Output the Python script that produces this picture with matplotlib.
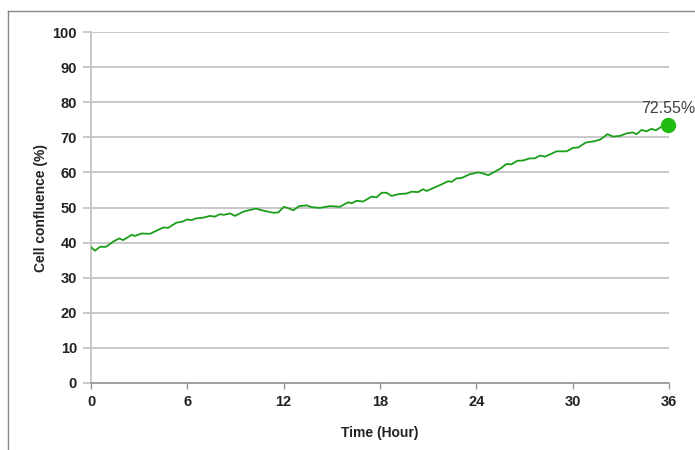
import matplotlib
matplotlib.use("Agg")
import matplotlib.pyplot as plt
from matplotlib.lines import Line2D

# values
hours = [0.0, 0.25, 0.56, 0.93, 1.39, 1.76, 2.0, 2.53, 2.74, 3.15, 3.67, 4.5, 4.8,
         5.33, 5.65, 6.0, 6.27, 6.54, 6.99, 7.41, 7.72, 8.03, 8.28, 8.66, 8.97,
         9.48, 9.9, 10.27, 10.73, 11.35, 11.66, 12.02, 12.29, 12.6, 12.97, 13.43,
         13.74, 14.26, 14.88, 15.5, 16.02, 16.23, 16.54, 16.95, 17.47, 17.79,
         18.1, 18.41, 18.72, 19.14, 19.66, 19.97, 20.38, 20.69, 20.9, 21.3,
         21.84, 22.25, 22.46, 22.77, 23.08, 23.6, 24.12, 24.43, 24.74, 25.15,
         25.47, 25.88, 26.19, 26.54, 26.92, 27.33, 27.64, 27.96, 28.27, 28.62,
         28.99, 29.62, 30.03, 30.34, 30.82, 31.38, 31.74, 32.17, 32.52, 32.94,
         33.35, 33.73, 33.98, 34.29, 34.6, 34.91, 35.18, 35.53, 35.95]
confluence = [38.7, 37.7, 38.8, 38.8, 40.3, 41.2, 40.7, 42.2, 41.9, 42.6, 42.5,
              44.3, 44.2, 45.7, 45.9, 46.6, 46.4, 46.9, 47.1, 47.6, 47.4, 48.1,
              47.9, 48.3, 47.6, 48.8, 49.3, 49.7, 49.1, 48.5, 48.6, 50.2, 49.8,
              49.2, 50.4, 50.6, 50.1, 49.9, 50.4, 50.2, 51.5, 51.2, 51.9, 51.7,
              53.1, 52.9, 54.2, 54.2, 53.3, 53.8, 54.0, 54.5, 54.4, 55.2, 54.7,
              55.5, 56.6, 57.5, 57.3, 58.3, 58.4, 59.5, 60.0, 59.7, 59.2, 60.2,
              61.0, 62.4, 62.3, 63.3, 63.4, 64.0, 64.0, 64.8, 64.5, 65.2, 66.0,
              66.0, 67.0, 67.1, 68.5, 68.9, 69.4, 70.9, 70.2, 70.4, 71.1, 71.4,
              70.9, 72.1, 71.7, 72.4, 72.0, 73.0, 73.4]
final_label = "72.55%"
x_ticks = [0, 6, 12, 18, 24, 30, 36]
y_ticks = [0, 10, 20, 30, 40, 50, 60, 70, 80, 90, 100]

plt.rcParams['font.family'] = ['Liberation Sans', 'DejaVu Sans']

fig = plt.figure(figsize=(6.95, 4.5), dpi=100)
ax = fig.add_axes([91 / 695, 1 - 383 / 450, 578 / 695, 351 / 450])

ax.plot(hours, confluence, color='#1a9e1a', lw=1.3, zorder=3)
ax.plot(hours[-1], confluence[-1], 'o', color='#22bb11', ms=10, zorder=4, clip_on=False)
ax.annotate(final_label, (hours[-1], confluence[-1]), xytext=(0, 7),
            textcoords='offset points', ha='center', va='bottom',
            fontsize=11.5, color='#404040')

ax.set_xlim(0, 36)
ax.set_ylim(0, 100)
ax.set_xticks(x_ticks)
ax.set_yticks(y_ticks)
ax.yaxis.grid(True, color='#c4c4c4', lw=1.3)
ax.set_axisbelow(True)
for s in ['top', 'right']:
    ax.spines[s].set_visible(False)
ax.spines['left'].set_color('#c4c4c4')
ax.spines['left'].set_linewidth(1.3)
ax.spines['bottom'].set_color('#999999')
ax.spines['bottom'].set_linewidth(1.3)
ax.tick_params(axis='y', length=6, width=1.3, color='#c4c4c4', pad=4)
ax.tick_params(axis='x', length=4, width=1.0, color='#999999', pad=5)
for lab in ax.get_xticklabels() + ax.get_yticklabels():
    lab.set_fontweight('bold')
    lab.set_fontsize(10.5)
    lab.set_color('#222222')

ax.set_xlabel('Time (Hour)', fontsize=10, fontweight='bold', color='#222222', labelpad=12)
ax.set_ylabel('Cell confluence (%)', fontsize=10, fontweight='bold', color='#222222', labelpad=3)

# outer frame (top and left only)
fig.add_artist(Line2D([8 / 695, 8 / 695], [0, 1 - 11 / 450], color='#888888', lw=1.0))
fig.add_artist(Line2D([8 / 695, 1], [1 - 11 / 450, 1 - 11 / 450], color='#888888', lw=1.0))

fig.savefig('out.png', dpi=100)
